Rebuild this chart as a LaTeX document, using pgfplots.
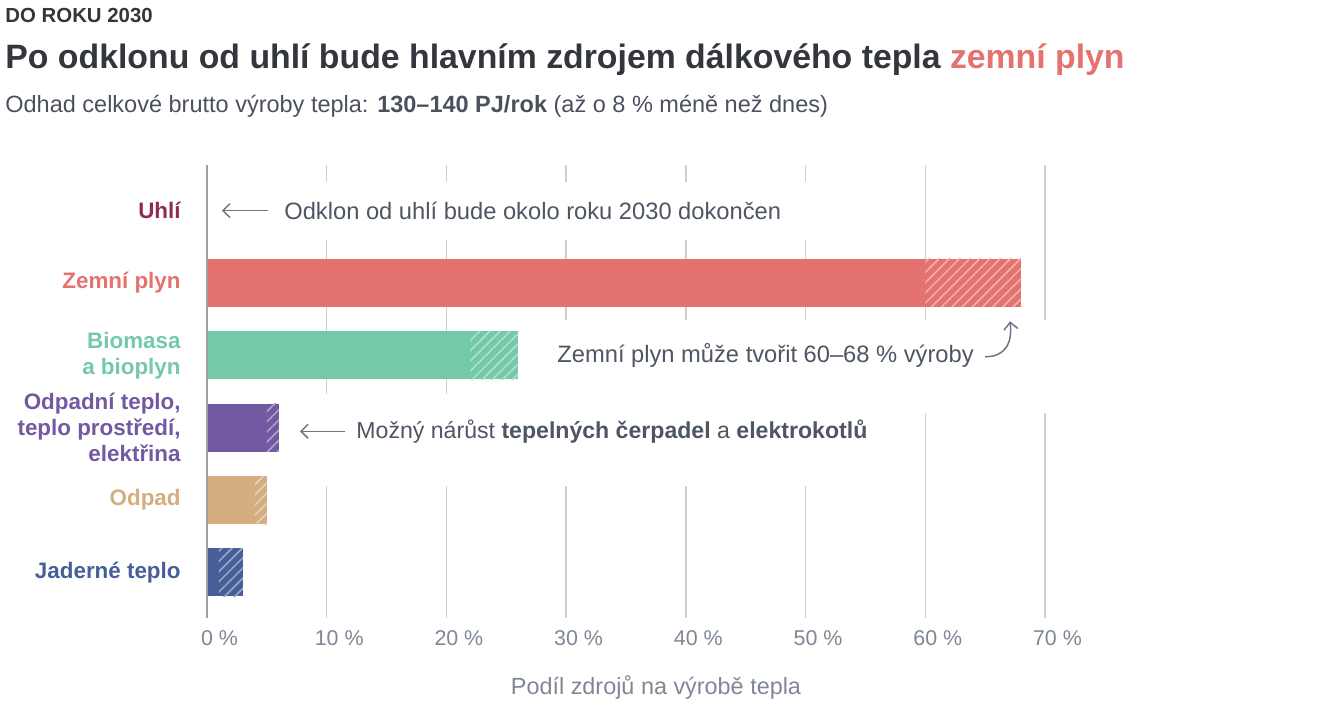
\documentclass[border=0pt]{standalone}
\usepackage{fontspec}
\setmainfont{Liberation Sans}
\usepackage{pgfplots}
\pgfplotsset{compat=1.18}
\usetikzlibrary{patterns.meta,arrows.meta}

\definecolor{uhli}{HTML}{8E2C55}
\definecolor{zemni}{HTML}{E4736F}
\definecolor{bio}{HTML}{74C9A9}
\definecolor{odpadni}{HTML}{7259A1}
\definecolor{odpad}{HTML}{D4AE7F}
\definecolor{jader}{HTML}{475F98}
\definecolor{titlec}{HTML}{33363D}
\definecolor{subc}{HTML}{4B515C}
\definecolor{annc}{HTML}{4E5563}
\definecolor{tickc}{HTML}{7F8795}
\definecolor{gridc}{HTML}{CCCFD6}
\definecolor{axisc}{HTML}{9AA0AA}
\definecolor{arrc}{HTML}{6E7684}

\tikzset{
  hatchbar/.style={fill=#1,draw=none,postaction={pattern={Lines[angle=45,distance=3.6pt,line width=0.75pt]},pattern color=#1!55!white}},
  firmbar/.style={fill=#1,draw=none},
  annot/.style={inner sep=0pt,text=annc,font=\fontsize{11.85}{14}\selectfont},
  arr/.style={draw=arrc,line width=0.75pt,-{Straight Barb[length=3.5pt,width=7pt]}}
}

\begin{document}
\begin{tikzpicture}[x=0.5pt,y=-0.5pt]
\path[use as bounding box] (0,0) rectangle (1321,709);
\node[anchor=base west,inner sep=0pt,text=titlec,font=\fontsize{10.2}{12}\selectfont\bfseries] at (5,22) {DO ROKU 2030};
\node[anchor=base west,inner sep=0pt,text=titlec,font=\fontsize{16.9}{20}\selectfont\bfseries] at (5,68) {Po odklonu od uhlí bude hlavním zdrojem dálkového tepla \textcolor{zemni}{zemní plyn}};
\node[anchor=base west,inner sep=0pt,text=subc,font=\fontsize{11.75}{14}\selectfont] at (5,112) {Odhad celkové brutto výroby tepla: \textbf{130–140 PJ/rok} (až o 8 \% méně než dnes)};

\begin{axis}[
  at={(103.5pt,-309pt)},anchor=south west,
  width=419pt,height=226.5pt,scale only axis,
  xmin=0,xmax=70,ymin=-0.63,ymax=5.63,
  axis line style={draw=none},major tick length=0pt,
  xtick={0,10,...,70},
  xticklabels={0\rlap{ \%},10\rlap{ \%},20\rlap{ \%},30\rlap{ \%},40\rlap{ \%},50\rlap{ \%},60\rlap{ \%},70\rlap{ \%}},
  xmajorgrids,grid style={color=gridc,line width=0.75pt},
  xticklabel style={inner sep=0pt,text=tickc,font=\fontsize{10.7}{12}\selectfont,yshift=-6pt},
  ytick={0,1,2,3,4,5},
  yticklabels={
    {\textcolor{jader}{Jaderné teplo}},
    {\textcolor{odpad}{Odpad}},
    {\textcolor{odpadni}{Odpadní teplo,}\\\textcolor{odpadni}{teplo prostředí,}\\\textcolor{odpadni}{elektřina}},
    {\textcolor{bio}{Biomasa}\\\textcolor{bio}{a bioplyn}},
    {\textcolor{zemni}{Zemní plyn}},
    {\textcolor{uhli}{Uhlí}}},
  yticklabel style={inner sep=0pt,align=right,font=\fontsize{11.2}{13}\selectfont\bfseries,xshift=-13pt},
  xbar stacked,reverse stacked plots=false,bar width=24pt,
  clip=false
]
% y: 0 Jaderne, 1 Odpad, 2 Odpadni teplo, 3 Biomasa, 4 Zemni plyn, 5 Uhli
% each source: firm share, then the possible extra share (hatched)
\addplot[firmbar=zemni] coordinates {(0,0)(0,1)(0,2)(0,3)(60,4)(0,5)};
\addplot[hatchbar=zemni] coordinates {(0,0)(0,1)(0,2)(0,3)(8,4)(0,5)};
\addplot[firmbar=bio] coordinates {(0,0)(0,1)(0,2)(22,3)(0,4)(0,5)};
\addplot[hatchbar=bio] coordinates {(0,0)(0,1)(0,2)(4,3)(0,4)(0,5)};
\addplot[firmbar=odpadni] coordinates {(0,0)(0,1)(5,2)(0,3)(0,4)(0,5)};
\addplot[hatchbar=odpadni] coordinates {(0,0)(0,1)(1,2)(0,3)(0,4)(0,5)};
\addplot[firmbar=odpad] coordinates {(0,0)(4,1)(0,2)(0,3)(0,4)(0,5)};
\addplot[hatchbar=odpad] coordinates {(0,0)(1,1)(0,2)(0,3)(0,4)(0,5)};
\addplot[firmbar=jader] coordinates {(1,0)(0,1)(0,2)(0,3)(0,4)(0,5)};
\addplot[hatchbar=jader] coordinates {(2,0)(0,1)(0,2)(0,3)(0,4)(0,5)};

% white boxes behind the notes
\fill[white] (axis cs:0.67,5.39) rectangle (axis cs:50.8,4.60);
\fill[white] (axis cs:27.0,3.49) rectangle (axis cs:71.3,2.21);
\fill[white] (axis cs:6.9,2.46) rectangle (axis cs:57.1,1.19);
\draw[axisc,line width=0.75pt] (axis cs:0,-0.63) -- (axis cs:0,5.63);

\draw[arr] (axis cs:5.1,5) -- (axis cs:1.25,5);
\node[annot,anchor=west] at (axis cs:6.43,5) {Odklon od uhlí bude okolo roku 2030 dokončen};
\node[annot,anchor=west] at (axis cs:29.24,3) {Zemní plyn může tvořit 60–68 \% výroby};
\draw[arr] (axis cs:65.0,2.98) .. controls (axis cs:66.6,2.98) and (axis cs:67.3,3.15) .. (axis cs:67.08,3.47);
\draw[arr] (axis cs:11.53,1.95) -- (axis cs:7.77,1.95);
\node[annot,anchor=west,font=\fontsize{11.55}{14}\selectfont] at (axis cs:12.45,1.95) {Možný nárůst \textbf{tepelných čerpadel} a \textbf{elektrokotlů}};
\end{axis}

\node[anchor=base,inner sep=0pt,text=tickc,font=\fontsize{11.7}{14}\selectfont] at (656,694) {Podíl zdrojů na výrobě tepla};
\end{tikzpicture}
\end{document}
